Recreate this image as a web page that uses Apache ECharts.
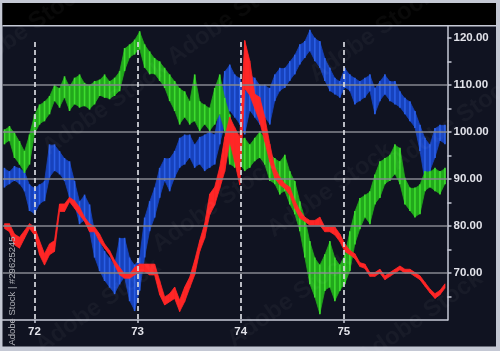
<!DOCTYPE html>
<html>
<head>
<meta charset="utf-8">
<script src="https://cdn.jsdelivr.net/npm/echarts@6/dist/echarts.min.js"></script>
<style>html,body{margin:0;padding:0;background:#101321;}#c{width:500px;height:351px;}</style>
</head>
<body>
<div id="c"></div>
<script>
// sample times: regular spacing starting at 71.709, one sample per 0.0485 time units
const T_START = 71.709;
const T_STEP = 0.04854;

const X_LABELS = [72, 73, 74, 75];
const Y_LABELS = [70, 80, 90, 100, 110, 120];
const Y_TICKS = [65, 70, 75, 80, 85, 90, 95, 100, 105, 110, 115, 120];
const GRID_LINES = [70, 80, 90, 100, 110];

const greenHigh = [100.6,101.3,99.9,98.1,96.0,99.5,103.8,105.9,106.6,107.7,110.1,109.4,111.9,109.8,111.6,112.3,110.5,110.1,110.9,111.2,112.3,110.9,111.6,113.0,117.9,118.7,119.7,121.5,118.7,117.2,115.8,115.1,113.7,112.3,110.9,109.4,108.7,106.6,112.3,106.6,105.9,105.2,109.4,112.3,107.3,103.8,99.5,98.8,98.8,97.4,98.8,100.2,98.8,95.6,94.5,93.8,95.2,91.7,89.6,85.3,81.8,76.8,73.3,71.8,74.0,76.8,73.3,71.8,74.0,78.9,83.2,86.0,86.7,87.4,91.0,93.8,94.5,95.2,97.4,96.7,90.3,88.2,88.2,88.9,91.7,91.7,92.4,91.7,92.4];
const greenLow = [97.4,98.1,94.5,93.1,91.3,93.1,99.5,101.6,102.3,103.8,106.6,105.2,107.3,104.5,105.9,105.2,105.5,104.8,105.9,107.7,107.3,107.0,107.7,108.7,113.0,115.8,116.5,117.6,113.7,112.3,112.3,110.9,109.4,106.6,104.5,101.6,103.1,101.6,102.3,100.2,101.6,100.2,101.6,103.8,100.2,93.1,92.4,93.1,91.7,92.4,93.8,94.5,93.1,89.6,88.9,86.7,87.4,84.6,82.5,78.9,73.3,67.6,64.8,61.2,66.2,66.9,64.0,66.2,67.6,70.4,76.1,79.3,81.8,80.4,84.6,86.0,88.9,89.6,91.0,88.9,84.6,83.2,81.8,82.5,87.4,88.2,87.4,86.7,88.9];

const blueHigh = [92.4,91.7,92.8,92.4,91.7,88.9,88.2,88.9,89.6,97.4,97.4,96.0,94.5,93.8,89.6,85.3,86.7,84.6,78.9,76.8,74.7,73.3,71.8,77.5,77.5,73.3,71.8,73.3,81.8,85.3,88.2,92.4,94.5,94.5,96.0,98.8,99.5,99.5,97.4,99.0,99.5,100.2,99.5,105.2,113.0,114.4,112.3,111.6,108.7,112.3,111.6,110.1,110.1,109.4,112.3,113.7,113.7,115.1,116.5,118.7,119.4,121.8,120.1,119.4,115.8,113.7,111.6,110.9,113.7,112.3,111.6,110.9,111.6,112.3,109.4,110.9,112.3,110.9,110.9,108.7,107.3,106.6,104.5,101.6,98.8,97.4,100.9,101.6,101.6];
const blueLow = [88.2,88.9,89.6,88.9,87.4,83.2,82.5,84.6,85.3,90.3,91.7,91.0,89.6,86.0,84.6,80.4,81.1,78.9,73.3,70.4,68.3,66.9,65.5,67.6,69.0,64.0,61.9,66.2,73.3,78.9,81.8,86.0,89.6,87.4,90.3,92.4,93.1,94.5,92.4,93.1,91.7,92.4,93.1,97.4,101.6,104.5,103.1,101.6,99.5,104.5,103.1,101.6,103.1,101.6,106.6,108.7,109.4,110.9,112.3,114.4,115.8,117.2,115.1,113.7,110.9,108.7,108.0,107.3,109.4,108.7,105.9,106.6,107.3,108.7,103.8,106.6,108.0,106.6,105.9,105.2,103.8,102.3,100.9,96.0,89.6,91.7,94.5,98.1,97.4];

const redHigh = [81.1,81.1,78.9,78.2,79.6,81.1,80.4,77.5,74.7,76.8,77.5,85.3,85.3,86.7,86.0,84.6,82.5,81.1,80.4,78.9,76.8,75.4,73.3,71.8,70.4,70.4,71.8,72.5,72.5,72.5,72.5,69.0,65.5,66.2,67.6,64.8,67.6,69.7,73.3,77.5,81.1,87.4,88.9,93.1,99.5,103.8,101.6,99.5,120.1,115.8,108.7,108.0,103.8,98.1,93.1,91.0,89.6,88.9,86.0,83.9,82.5,81.8,81.8,82.5,80.4,80.4,80.4,78.9,76.8,75.4,74.7,72.5,72.5,70.4,70.4,71.1,69.7,70.4,71.1,71.8,71.1,71.1,70.4,69.7,68.3,66.9,66.2,66.9,68.3];
const redLow = [78.9,78.2,75.4,74.7,76.8,78.9,77.5,73.3,71.1,73.3,74.0,82.5,82.5,84.6,83.2,81.8,80.4,78.2,78.2,76.1,74.7,73.3,71.1,69.0,68.3,68.3,69.0,69.7,69.7,69.0,69.0,64.8,62.6,63.3,64.0,61.2,63.3,66.2,69.0,74.0,76.8,81.8,83.9,87.4,91.0,97.4,93.1,88.2,108.7,107.3,104.5,101.6,97.4,93.1,89.6,88.2,87.4,86.0,83.2,81.1,80.4,79.6,79.6,79.6,78.2,78.2,77.5,76.1,74.0,73.3,72.5,71.1,70.4,69.0,69.0,69.7,68.3,69.0,69.7,70.4,69.7,69.7,69.0,68.3,66.9,65.5,64.0,64.8,66.2];

function rows(hi, lo) {
  return hi.map((h, i) => [T_START + i * T_STEP, h, lo[i]]);
}

// shrink a pixel span [top, bottom] by inset on each side, keeping a minimum thickness
function insetSpan(top, bottom, inset, minT) {
  const mid = (top + bottom) / 2;
  const half = Math.max((bottom - top) / 2 - inset, minT / 2);
  return [mid - half, mid + half];
}

// band between consecutive samples + a vertical stroke per sample (price range)
function bandRenderer(hi, lo, fill, stripe, inset, minT, stripeW) {
  return function (params, api) {
    const i = params.dataIndex;
    const t0 = api.value(0);
    const a = api.coord([t0, hi[i]]);
    const d = api.coord([t0, lo[i]]);
    const children = [];
    if (i < hi.length - 1) {
      const t1 = t0 + T_STEP;
      const b = api.coord([t1, hi[i + 1]]);
      const c = api.coord([t1, lo[i + 1]]);
      const s0 = insetSpan(a[1], d[1], inset, minT);
      const s1 = insetSpan(b[1], c[1], inset, minT);
      children.push({
        type: 'polygon',
        shape: { points: [[a[0], s0[0]], [b[0], s1[0]], [c[0], s1[1]], [d[0], s0[1]]] },
        style: { fill: fill, stroke: fill, lineWidth: 0.8 }
      });
    }
    if (stripe) {
      children.push({
        type: 'rect',
        shape: { x: a[0] - stripeW / 2, y: a[1], width: stripeW, height: Math.max(d[1] - a[1], 1) },
        style: { fill: stripe }
      });
    }
    return { type: 'group', children: children };
  };
}

const AXIS_COLOR = '#c6cad6';
const LABEL_STYLE = { color: '#e2e3ea', fontSize: 11.5, fontWeight: 'bold', fontFamily: 'Liberation Sans, Arial, sans-serif' };

const wm = [[105,108],[372,35],[453,123],[98,306],[290,300],[420,318],[230,18],[25,30],[215,205],[330,190]];
const graphics = [
  { type: 'rect', shape: { x: 0, y: 0, width: 500, height: 3 }, style: { fill: '#c4c8d4' }, silent: true },
  { type: 'rect', shape: { x: 0, y: 0, width: 2.5, height: 351 }, style: { fill: '#c4c8d4' }, silent: true },
  { type: 'rect', shape: { x: 496, y: 0, width: 4, height: 351 }, style: { fill: '#c4c8d4' }, silent: true },
  { type: 'rect', shape: { x: 0, y: 346.5, width: 500, height: 4.5 }, style: { fill: '#c4c8d4' }, silent: true },
  { type: 'rect', shape: { x: 2.5, y: 3, width: 493.5, height: 22.5 }, style: { fill: '#000000' }, silent: true },
  { type: 'line', shape: { x1: 2.5, y1: 25.8, x2: 496, y2: 25.8 }, style: { stroke: AXIS_COLOR, lineWidth: 1.5 }, silent: true },
  { type: 'text', x: 12.5, y: 291, rotation: Math.PI / 2, style: { text: 'Adobe Stock | #29625245', fill: '#b0b2b8', font: '9.5px Liberation Sans, Arial, sans-serif', align: 'center', verticalAlign: 'middle' }, silent: true, z: 10 }
];
wm.forEach(p => graphics.push({
  type: 'text', x: p[0], y: p[1], rotation: 0.61,
  style: { text: 'Adobe Stock', fill: 'rgba(255,255,255,0.035)', font: 'bold 24px Liberation Sans, Arial, sans-serif', align: 'center', verticalAlign: 'middle' },
  silent: true, z: 20
}));

const markData = GRID_LINES.map(v => ({ yAxis: v, lineStyle: { color: '#85878f', width: 1.6, type: 'solid' } }))
  .concat(X_LABELS.map(v => [
    { coord: [v, 119.2], lineStyle: { color: '#d8dae0', width: 1.7, type: [5, 3] } },
    { coord: [v, 60] }
  ]));

const chart = echarts.init(document.getElementById('c'), null, { renderer: 'canvas' });
chart.setOption({
  backgroundColor: '#101321',
  animation: false,
  grid: { left: 2.5, right: 52.5, top: 26, bottom: 31, containLabel: false },
  xAxis: {
    type: 'value', min: 71.69, max: 76.005,
    axisLine: { show: true, lineStyle: { color: AXIS_COLOR, width: 1.5 } },
    axisTick: { show: true, customValues: X_LABELS, length: 3, lineStyle: { color: AXIS_COLOR, width: 1.5 } },
    axisLabel: Object.assign({ customValues: X_LABELS, margin: 6, formatter: v => String(v) }, LABEL_STYLE),
    splitLine: { show: false }
  },
  yAxis: {
    type: 'value', position: 'right', min: 60, max: 122.6,
    axisLine: { show: true, lineStyle: { color: AXIS_COLOR, width: 1.5 } },
    axisTick: { show: true, customValues: Y_TICKS, length: 4, lineStyle: { color: AXIS_COLOR, width: 1.5 } },
    axisLabel: Object.assign({ customValues: Y_LABELS, margin: 6, formatter: v => v.toFixed(2) }, LABEL_STYLE),
    splitLine: { show: false }
  },
  graphic: graphics,
  series: [
    { type: 'custom', name: 'blue', z: 2, clip: true, renderItem: bandRenderer(blueHigh, blueLow, '#1742bc', '#2a5fe6', 0.8, 2, 1.6), data: rows(blueHigh, blueLow), encode: { x: 0, y: [1, 2] } },
    { type: 'custom', name: 'green', z: 3, clip: true, renderItem: bandRenderer(greenHigh, greenLow, '#22a81c', '#3ddc2e', 0.8, 2, 1.6), data: rows(greenHigh, greenLow), encode: { x: 0, y: [1, 2] } },
    { type: 'custom', name: 'red', z: 4, clip: true, renderItem: bandRenderer(redHigh, redLow, '#ff2626', null, 2.8, 3.8, 0), data: rows(redHigh, redLow), encode: { x: 0, y: [1, 2] } },
    {
      type: 'line', name: 'guides', z: 5, data: [[72, 60]], symbol: 'none', lineStyle: { opacity: 0 },
      markLine: { silent: true, symbol: ['none', 'none'], label: { show: false }, animation: false, data: markData }
    }
  ]
});
</script>
</body>
</html>
